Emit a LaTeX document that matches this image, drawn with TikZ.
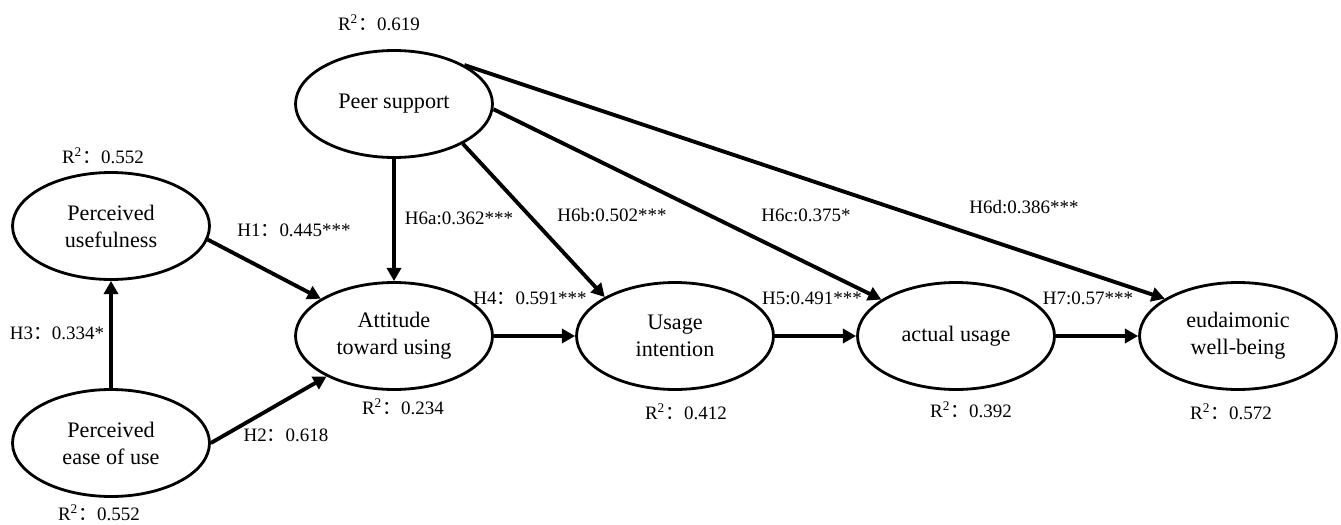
\documentclass[tikz,border=0pt]{standalone}
\usepackage{fontspec}
\setmainfont{Liberation Serif}
\newfontfamily\cjk{Noto Sans CJK SC}
\usetikzlibrary{arrows.meta,shapes.geometric}
\newcommand{\qcolon}{{\cjk ：}}
\newcommand{\rsq}[1]{R\textsuperscript{2}\qcolon#1}

\begin{document}
\begin{tikzpicture}[x=0.02cm, y=-0.02cm, >={Triangle[length=7.5pt,width=8pt]}, main node/.style={ellipse,draw,line width=1.6pt,minimum width=3.94cm,minimum height=2.14cm,inner sep=0pt,align=center,font=\fontsize{12.6}{15.4}\selectfont}, lab/.style={font=\fontsize{10.8}{13}\selectfont,inner sep=0pt}]
\useasboundingbox (0,0) rectangle (1341,524);
\begin{scope}
\node[main node] (pu) at (111,226) {Perceived\\usefulness};
\node[main node] (peou) at (111,443) {Perceived\\ease of use};
\node[main node] (att) at (394,336) {Attitude\\toward using};
\node[main node] (peer) at (394,104) {Peer support};
\node[main node] (ui) at (675,336) {Usage\\intention};
\node[main node] (au) at (956,336) {actual usage};
\node[main node] (eud) at (1238,336) {eudaimonic\\well-being};
\end{scope}
% R^2 values
\begin{scope}[every node/.style={lab}]
\node (r_peer) at (379,23) {\rsq{0.619}};
\node (r_pu) at (103,156) {\rsq{0.552}};
\node (r_peou) at (99,513) {\rsq{0.552}};
\node (r_att) at (403,407) {\rsq{0.234}};
\node (r_ui) at (686,412) {\rsq{0.412}};
\node (r_au) at (971,410) {\rsq{0.392}};
\node (r_eud) at (1231,412) {\rsq{0.572}};
\end{scope}
% path coefficients
\begin{scope}[every node/.style={lab}]
\node (h1) at (294,230) {H1\qcolon0.445***};
\node (h2) at (286,435) {H2\qcolon0.618};
\node (h3) at (57,333) {H3\qcolon0.334*};
\node (h4) at (530,298) {H4\qcolon0.591***};
\node (h5) at (812,298) {H5:0.491***};
\node (h6a) at (459,218) {H6a:0.362***};
\node (h6b) at (612,215) {H6b:0.502***};
\node (h6c) at (806,215) {H6c:0.375*};
\node (h6d) at (1024,207) {H6d:0.386***};
\node (h7) at (1088,298) {H7:0.57***};
\end{scope}
\begin{scope}[line width=2.2pt]
\path[->] (peou) edge node{} (pu);
\path[->] (pu.-8) edge node{} (att.153);
\path[->] (peou.0) edge node{} (att.-149);
\path[->] (peer) edge node{} (att);
\path[->] (peer.-30) edge node{} (ui.151);
\path[->] (peer.-3) edge node{} (au.154);
\path[->] (peer.29) edge node{} (eud.153);
\path[->] (att) edge node{} (ui);
\path[->] (ui) edge node{} (au);
\path[->] (au) edge node{} (eud);
\end{scope}
\end{tikzpicture}
\end{document}
